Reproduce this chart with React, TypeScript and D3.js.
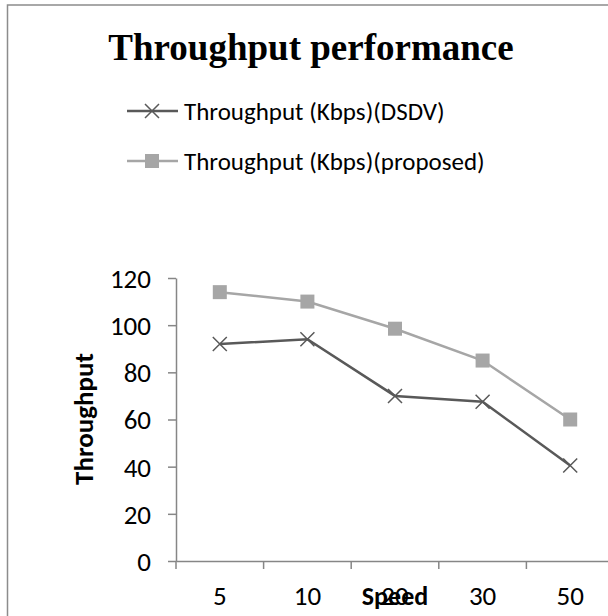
import React, { useEffect, useRef } from 'react';
import * as d3 from 'd3';

const speeds = ['5', '10', '20', '30', '50'];
const dsdv = [92, 94, 70, 67.5, 40.5];
const proposed = [114, 110, 98.5, 85, 60];
const yTicks = [0, 20, 40, 60, 80, 100, 120];
const seriesNames = ['Throughput (Kbps)(DSDV)', 'Throughput (Kbps)(proposed)'];

const W = 608;
const H = 616;
const FONT = 'Calibri, Carlito, Lato, sans-serif';

const App: React.FC = () => {
  const ref = useRef<SVGSVGElement | null>(null);

  useEffect(() => {
    if (!ref.current) return;
    const svg = d3.select(ref.current);
    svg.selectAll('*').remove();

    const margin = { left: 176, top: 278, right: 614, bottom: 561 };
    const x = d3.scaleBand<string>().domain(speeds).range([margin.left, margin.right]).padding(0);
    const y = d3.scaleLinear().domain([0, 120]).range([margin.bottom, margin.top]);
    const cx = (d: string) => (x(d) ?? 0) + x.bandwidth() / 2;

    // chart area border
    svg.append('rect')
      .attr('x', 7.5).attr('y', 5).attr('width', 700).attr('height', 700)
      .attr('fill', '#fff').attr('stroke', '#8c8c8c').attr('stroke-width', 1.5);

    svg.append('text')
      .attr('x', 311).attr('y', 60)
      .attr('text-anchor', 'middle')
      .attr('font-family', '"Liberation Serif", "Times New Roman", serif')
      .attr('font-weight', 'bold').attr('font-size', 37)
      .text('Throughput performance');

    // y axis
    const yAxis = svg.append('g')
      .attr('transform', `translate(${margin.left},0)`)
      .call(d3.axisLeft(y).tickValues(yTicks).tickSize(8).tickPadding(17).tickSizeOuter(0));
    yAxis.select('.domain').attr('stroke', '#868686').attr('stroke-width', 1.5);
    yAxis.selectAll('.tick line').attr('stroke', '#868686').attr('stroke-width', 1.5);
    yAxis.selectAll('.tick text')
      .attr('font-family', FONT).attr('font-size', 27).attr('fill', '#000')
      .attr('dy', '0.35em');

    // x axis
    const xAxis = svg.append('g')
      .attr('transform', `translate(0,${margin.bottom})`)
      .call(d3.axisBottom(x).tickSize(0).tickPadding(0).tickSizeOuter(0));
    xAxis.select('.domain').attr('stroke', '#868686').attr('stroke-width', 1.5);
    xAxis.selectAll('.tick text')
      .attr('font-family', FONT).attr('font-size', 27).attr('fill', '#000')
      .attr('y', 35).attr('dy', '0.35em');
    xAxis.selectAll('.boundary')
      .data(speeds)
      .enter().append('line')
      .attr('x1', d => x(d)!).attr('x2', d => x(d)!)
      .attr('y1', 0).attr('y2', 8)
      .attr('stroke', '#868686').attr('stroke-width', 1.5);

    // axis titles
    svg.append('text')
      .attr('transform', 'translate(93,419) rotate(-90)')
      .attr('text-anchor', 'middle')
      .attr('font-family', FONT).attr('font-weight', 'bold').attr('font-size', 27)
      .text('Throughput');
    svg.append('text')
      .attr('x', 395).attr('y', 605)
      .attr('text-anchor', 'middle')
      .attr('font-family', FONT).attr('font-weight', 'bold').attr('font-size', 26)
      .text('Speed');

    const line = d3.line<number>().x((_, i) => cx(speeds[i])).y(d => y(d));

    // proposed series
    svg.append('path').datum(proposed)
      .attr('d', line).attr('fill', 'none').attr('stroke', '#a6a6a6').attr('stroke-width', 2.5);
    svg.selectAll('.sq').data(proposed).enter().append('rect')
      .attr('x', (_, i) => cx(speeds[i]) - 7).attr('y', d => y(d) - 7)
      .attr('width', 14).attr('height', 14).attr('fill', '#a6a6a6');

    // dsdv series
    svg.append('path').datum(dsdv)
      .attr('d', line).attr('fill', 'none').attr('stroke', '#595959').attr('stroke-width', 2.5);
    svg.selectAll('.xm').data(dsdv).enter().append('path')
      .attr('d', (d, i) => {
        const px = cx(speeds[i]);
        const py = y(d);
        return `M${px - 7},${py - 7}L${px + 7},${py + 7}M${px - 7},${py + 7}L${px + 7},${py - 7}`;
      })
      .attr('stroke', '#595959').attr('stroke-width', 1.5).attr('fill', 'none');

    // legend
    const legend = svg.append('g');
    seriesNames.forEach((name, i) => {
      const ly = 111 + i * 50;
      const color = i === 0 ? '#595959' : '#a6a6a6';
      legend.append('line')
        .attr('x1', 127).attr('x2', 178).attr('y1', ly).attr('y2', ly)
        .attr('stroke', color).attr('stroke-width', 2.5);
      if (i === 0) {
        legend.append('path')
          .attr('d', `M${152 - 7},${ly - 7}L${152 + 7},${ly + 7}M${152 - 7},${ly + 7}L${152 + 7},${ly - 7}`)
          .attr('stroke', color).attr('stroke-width', 1.5);
      } else {
        legend.append('rect')
          .attr('x', 152 - 7).attr('y', ly - 7).attr('width', 14).attr('height', 14)
          .attr('fill', color);
      }
      legend.append('text')
        .attr('x', 184).attr('y', ly).attr('dy', '0.35em')
        .attr('font-family', FONT).attr('font-size', 25)
        .text(name);
    });
  }, []);

  return (
    <svg ref={ref} width={W} height={H}
      style={{ position: 'absolute', left: 0, top: 0, background: '#fff' }} />
  );
};

export default App;
